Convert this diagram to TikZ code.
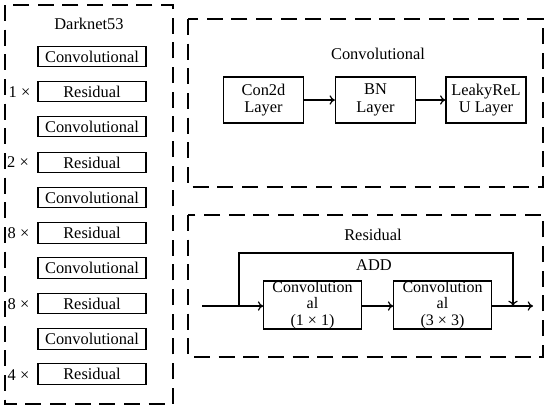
\documentclass[tikz,border=0pt]{standalone}
\usepackage{fontspec}
\setmainfont{Liberation Serif}
\usetikzlibrary{arrows.meta}
\begin{document}
\begin{tikzpicture}[x=0.75pt,y=-0.75pt,
  font=\fontsize{12.3}{13}\selectfont,
  frame/.style={draw, line width=0.85pt, dash pattern=on 12pt off 6.5pt},
  blk/.style={draw, line width=0.9pt, minimum width=81pt, minimum height=15.5pt, inner sep=0pt},
  lay/.style={draw, line width=0.9pt, minimum width=60pt, minimum height=34.5pt, inner sep=0pt, align=center, font=\fontsize{12.3}{13}\selectfont},
  cv/.style={draw, line width=0.9pt, minimum width=73pt, minimum height=36pt, inner sep=0pt, align=center, font=\fontsize{12}{12.3}\selectfont},
  conn/.style={line width=0.9pt, -{To[length=4pt,width=7pt]}},
  plain/.style={line width=0.9pt}]
\useasboundingbox (0,0) rectangle (550,412);
% frames
\draw[frame] (5,5) rectangle (173,404);
\draw[frame] (188,19) rectangle (543,187);
\draw[frame] (188,215) rectangle (543,357);
% left column
\node (dn) at (89,24) {Darknet53};
\node[blk] (c1) at (92,56.5) {Convolutional};
\node[blk] (r1) at (92,91.5) {Residual};
\node[blk] (c2) at (92,126.5) {Convolutional};
\node[blk] (r2) at (92,162.5) {Residual};
\node[blk] (c3) at (92,197.5) {Convolutional};
\node[blk] (r3) at (92,233) {Residual};
\node[blk] (c4) at (92,268) {Convolutional};
\node[blk] (r4) at (92,303.5) {Residual};
\node[blk] (c5) at (92,339) {Convolutional};
\node[blk] (r5) at (92,374) {Residual};
\node (m1) at (19.5,92) {1 ×};
\node (m2) at (18,162.5) {2 ×};
\node (m3) at (18.5,233.5) {8 ×};
\node (m4) at (18.5,304) {8 ×};
\node (m5) at (18.5,375) {4 ×};
% convolutional panel
\node (ct) at (378,54) {Convolutional};
\node[lay] (l1) at (263.5,100) {Con2d\\Layer};
\node[lay] (l2) at (375.5,100) {BN\\Layer};
\node[lay] (l3) at (486,100) {LeakyReL\\U Layer};
\draw[conn] (l1) -- (l2);
\draw[conn] (l2) -- (l3);
% residual panel
\node (rt) at (373,235) {Residual};
\node (add) at (374,265) {ADD};
\node[cv] (v1) at (312.5,305) {Convolution\\al\\(1 × 1)};
\node[cv] (v2) at (442.5,305) {Convolution\\al\\(3 × 3)};
\coordinate (in) at (202,306);
\coordinate (sp) at (239,306);
\coordinate (jn) at (513,306);
\coordinate (out) at (533,306);
\draw[plain] (in) -- (sp);
\draw[conn] (sp) -- (v1.west |- sp);
\draw[conn] (v1.east |- sp) -- (v2.west |- sp);
\draw[conn] (v2.east |- sp) -- (out);
\draw[conn] (sp) -- (239,253) -- (513,253) -- (jn);
\end{tikzpicture}
\end{document}
